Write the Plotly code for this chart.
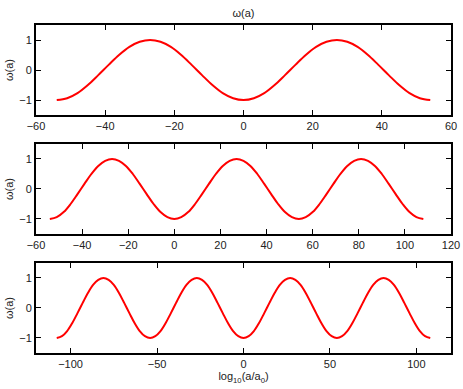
import plotly.graph_objects as go
from plotly.subplots import make_subplots

# one period of the curve read off the picture, sampled every 3 units of x
# (starts at a minimum: x = 0, ±54, ±108)
period = [-1, -0.94, -0.77, -0.5, -0.17, 0.17, 0.5, 0.77, 0.94,
          1, 0.94, 0.77, 0.5, 0.17, -0.17, -0.5, -0.77, -0.94]

x_top = list(range(-54, 55, 3))
y_top = period * 2 + [-1]

x_mid = list(range(-54, 109, 3))
y_mid = period * 3 + [-1]

x_bot = list(range(-108, 109, 3))
y_bot = period * 4 + [-1]

x_ranges = [[-60, 60], [-60, 120], [-120, 120]]
x_dticks = [20, 20, 50]
y_ticks = [-1, 0, 1]
y_ticktext = ["\u22121", "0", "1"]

fig = make_subplots(rows=3, cols=1, vertical_spacing=0.05)
fig.update_layout(
    yaxis=dict(domain=[0.7256, 1.0]),
    yaxis2=dict(domain=[0.3628, 0.6372]),
    yaxis3=dict(domain=[0.0, 0.2744]),
)

for i, (xs, ys) in enumerate([(x_top, y_top), (x_mid, y_mid), (x_bot, y_bot)], start=1):
    fig.add_trace(
        go.Scatter(x=xs, y=ys, mode="lines", line=dict(color="#ff0000", width=2, shape="spline", smoothing=1),
                   hoverinfo="skip", showlegend=False),
        row=i, col=1,
    )
    fig.update_xaxes(range=x_ranges[i - 1], dtick=x_dticks[i - 1], row=i, col=1)
    fig.update_yaxes(range=[-1.5, 1.5], tickvals=y_ticks, ticktext=y_ticktext,
                     title_text="\u03c9(a)", title_standoff=3, row=i, col=1)

axis_style = dict(
    showline=True, linecolor="black", linewidth=2, mirror="ticks",
    ticks="inside", ticklen=5, tickwidth=1, tickcolor="black",
    showgrid=False, zeroline=False, automargin=False,
    tickfont=dict(size=11, color="#222"),
)
fig.update_xaxes(**axis_style, tickformat="d")
fig.update_yaxes(**axis_style)
fig.update_yaxes(title_font=dict(size=11, color="#222"))
fig.update_xaxes(title_text="log<sub>10</sub>(a/a<sub>0</sub>)", title_font=dict(size=11, color="#222"),
                 title_standoff=2, row=3, col=1)

fig.update_layout(
    width=463, height=389,
    margin=dict(l=36, r=12, t=25, b=36),
    title=dict(text="\u03c9(a)", x=0.526, xanchor="center", y=0.967, yanchor="middle",
               font=dict(size=11, color="#222")),
    font=dict(family="Liberation Sans, Arial, sans-serif", color="#222"),
    plot_bgcolor="white", paper_bgcolor="white",
)

fig.write_html("out.html", config={"displayModeBar": False},
               post_script="document.body.style.margin='0';document.body.style.overflow='hidden';")
